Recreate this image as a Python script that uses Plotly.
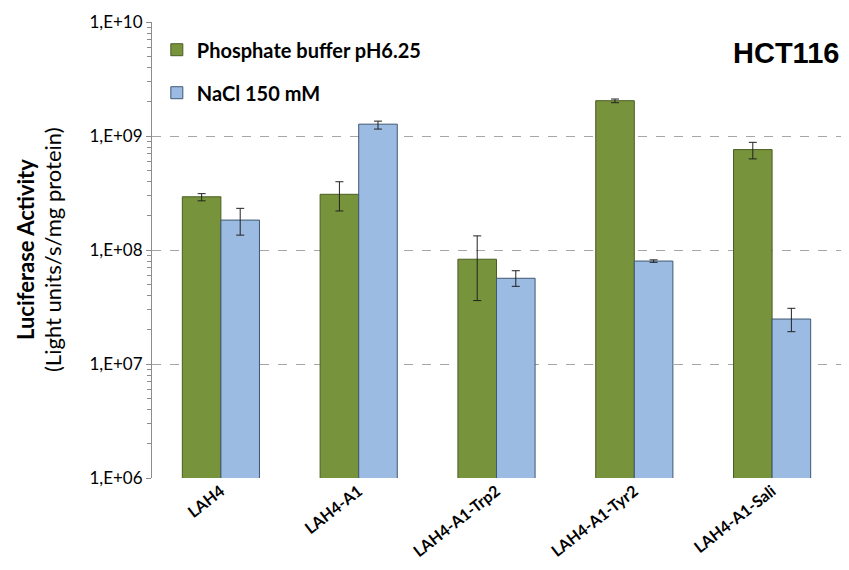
import plotly.graph_objects as go

categories = ["LAH4", "LAH4-A1", "LAH4-A1-Trp2", "LAH4-A1-Tyr2", "LAH4-A1-Sali"]
phosphate = [2.93e8, 3.08e8, 8.3e7, 2.04e9, 7.6e8]
phosphate_err_plus = [0.19e8, 0.89e8, 5.0e7, 0.07e9, 1.2e8]
phosphate_err_minus = [0.23e8, 0.88e8, 4.7e7, 0.08e9, 1.3e8]
nacl = [1.83e8, 1.27e9, 5.65e7, 8.0e7, 2.48e7]
nacl_err_plus = [0.49e8, 0.08e9, 0.93e7, 0.2e7, 0.6e7]
nacl_err_minus = [0.48e8, 0.12e9, 0.85e7, 0.2e7, 0.56e7]

ytickvals = [1e6, 1e7, 1e8, 1e9, 1e10]
yticktext = ["1,E+06", "1,E+07", "1,E+08", "1,E+09", "1,E+10"]

FONT = "Lato, Open Sans, sans-serif"

fig = go.Figure()
fig.add_trace(go.Bar(
    x=categories, y=phosphate, name="<b>Phosphate buffer pH6.25</b>",
    legendgroup="a",
    marker=dict(color="#77933C", line=dict(color="#4A5E22", width=1)),
    error_y=dict(type="data", symmetric=False, array=phosphate_err_plus,
                 arrayminus=phosphate_err_minus, color="#222222", thickness=1, width=4),
))
fig.add_trace(go.Bar(
    x=categories, y=nacl, name="<b>NaCl 150 mM</b>",
    legendgroup="b",
    marker=dict(color="#9BBBE3", line=dict(color="#3F5873", width=1)),
    error_y=dict(type="data", symmetric=False, array=nacl_err_plus,
                 arrayminus=nacl_err_minus, color="#222222", thickness=1, width=4),
))

fig.update_layout(
    width=833, height=554,
    margin=dict(l=144, r=0, t=14, b=84, autoexpand=False),
    paper_bgcolor="white", plot_bgcolor="white",
    barmode="group", bargap=0.44, bargroupgap=0,
    font=dict(family=FONT, color="black"),
    legend=dict(x=0.007, y=0.982, xanchor="left", yanchor="top",
                font=dict(size=20, family=FONT), bgcolor="rgba(0,0,0,0)",
                traceorder="grouped", tracegroupgap=14, itemwidth=30),
    showlegend=True,
)
fig.update_xaxes(
    tickangle=-38, tickfont=dict(size=16, family=FONT, color="black"),
    showline=False, showgrid=False, ticks="", automargin=False,
    tickprefix="<b>", ticksuffix="</b>",
)
fig.update_yaxes(
    type="log", range=[6, 10], automargin=False,
    tickvals=ytickvals, ticktext=yticktext,
    tickfont=dict(size=17, family=FONT, color="black"),
    showline=True, linecolor="#8C8C8C", linewidth=1,
    showgrid=True, gridcolor="#A6A6A6", griddash="dash", gridwidth=1,
    ticks="outside", ticklen=5, tickcolor="#8C8C8C",
    minor=dict(ticks="outside", ticklen=4, tickcolor="#8C8C8C", showgrid=False,
               dtick="D1"),
    zeroline=False,
)
fig.add_annotation(
    text="<b>Luciferase Activity</b>", xref="paper", yref="paper", x=0, y=0.5,
    xanchor="center", yanchor="middle", xshift=-127, textangle=-90,
    showarrow=False, font=dict(size=22, family=FONT, color="black"),
)
fig.add_annotation(
    text="(Light units/s/mg protein)", xref="paper", yref="paper", x=0, y=0.5,
    xanchor="center", yanchor="middle", xshift=-100, textangle=-90,
    showarrow=False, font=dict(size=22, family=FONT, color="black"),
)
fig.add_annotation(
    text="<b>HCT116</b>", xref="paper", yref="paper", x=1.0, y=0.932,
    xanchor="right", yanchor="middle", showarrow=False,
    font=dict(size=29, family="Liberation Sans, Arial", color="black"),
)

fig.write_html("out.html")
